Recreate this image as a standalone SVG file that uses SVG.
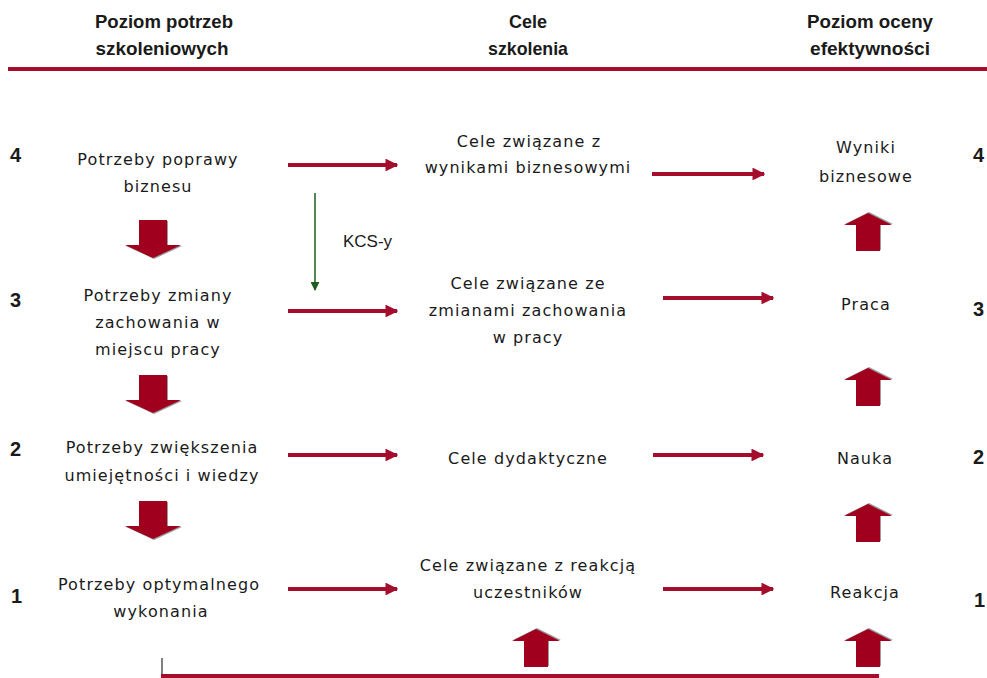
<svg xmlns="http://www.w3.org/2000/svg" width="987" height="678" viewBox="0 0 987 678">
<defs>
<style>
.hd{font-family:"Liberation Sans",Arial,sans-serif;font-weight:bold;font-size:19px;fill:#1a1a1a;text-anchor:middle}
.t{font-family:"DejaVu Sans","Liberation Sans",sans-serif;font-size:16px;letter-spacing:1.1px;fill:#1a1a1a;text-anchor:middle}
.n{font-family:"Liberation Sans",Arial,sans-serif;font-weight:bold;font-size:20px;fill:#1a1a1a}
.k{font-family:"Liberation Sans",Arial,sans-serif;font-size:17px;fill:#1a1a1a}
.ln{stroke:#a50d2d;stroke-width:4;fill:none}
.ra{stroke:#a50d2d;stroke-width:4;fill:none;marker-end:url(#rh)}
.ga{stroke:#1f5a1f;stroke-width:1.5;fill:none;marker-end:url(#gh)}
.blk{fill:#a0001e}
.sh{fill:#9a9a9a}
</style>
<marker id="rh" viewBox="0 0 10 10" refX="9" refY="5" markerWidth="3.2" markerHeight="3.2" markerUnits="strokeWidth" orient="auto">
<path d="M0,0 L10,5 L0,10 z" fill="#a50d2d"/>
</marker>
<marker id="gh" viewBox="0 0 10 10" refX="9" refY="5" markerWidth="6" markerHeight="6" markerUnits="strokeWidth" orient="auto">
<path d="M0,0 L10,5 L0,10 z" fill="#1f5a1f"/>
</marker>
<polygon id="down" points="-14,0 14,0 14,25 28,25 0,38 -28,25 -14,25"/>
<polygon id="up" points="0,0 24,12 12,12 12,38 -12,38 -12,12 -24,12"/>
</defs>
<rect width="987" height="678" fill="#ffffff"/>

<g id="header">
<text class="hd" x="164" y="28" textLength="138" lengthAdjust="spacingAndGlyphs">Poziom potrzeb</text>
<text class="hd" x="162" y="55" textLength="133" lengthAdjust="spacingAndGlyphs">szkoleniowych</text>
<text class="hd" x="528" y="28" textLength="38" lengthAdjust="spacingAndGlyphs">Cele</text>
<text class="hd" x="528" y="55" textLength="80" lengthAdjust="spacingAndGlyphs">szkolenia</text>
<text class="hd" x="870" y="28" textLength="126" lengthAdjust="spacingAndGlyphs">Poziom oceny</text>
<text class="hd" x="870" y="55" textLength="120" lengthAdjust="spacingAndGlyphs">efektywności</text>
<line class="ln" x1="8" y1="69" x2="987" y2="69"/>
</g>

<g id="levels">
<text class="n" x="10" y="162">4</text>
<text class="n" x="10" y="307">3</text>
<text class="n" x="10" y="456">2</text>
<text class="n" x="11" y="603">1</text>
<text class="n" x="973" y="162">4</text>
<text class="n" x="973" y="316">3</text>
<text class="n" x="973" y="464">2</text>
<text class="n" x="974" y="607">1</text>
</g>

<g id="need4"><text class="t" x="158" y="165">Potrzeby poprawy</text><text class="t" x="158" y="192">biznesu</text></g>
<g id="need3"><text class="t" x="158" y="301">Potrzeby zmiany</text><text class="t" x="158" y="328">zachowania w</text><text class="t" x="158" y="355">miejscu pracy</text></g>
<g id="need2"><text class="t" x="162" y="453">Potrzeby zwiększenia</text><text class="t" x="162" y="481">umiejętności i wiedzy</text></g>
<g id="need1"><text class="t" x="159" y="590">Potrzeby optymalnego</text><text class="t" x="161" y="617">wykonania</text></g>

<g id="goal4"><text class="t" x="529" y="147">Cele związane z</text><text class="t" x="528" y="173">wynikami biznesowymi</text></g>
<g id="goal3"><text class="t" x="528" y="289">Cele związane ze</text><text class="t" x="528" y="316">zmianami zachowania</text><text class="t" x="528" y="343">w pracy</text></g>
<g id="goal2"><text class="t" x="528" y="464">Cele dydaktyczne</text></g>
<g id="goal1"><text class="t" x="528" y="571">Cele związane z reakcją</text><text class="t" x="528" y="598">uczestników</text></g>

<g id="eval4"><text class="t" x="866" y="153">Wyniki</text><text class="t" x="866" y="182">biznesowe</text></g>
<g id="eval3"><text class="t" x="866" y="310">Praca</text></g>
<g id="eval2"><text class="t" x="865" y="464">Nauka</text></g>
<g id="eval1"><text class="t" x="865" y="598">Reakcja</text></g>

<g id="connectors">
<line class="ra" x1="288" y1="165" x2="397" y2="165"/>
<line class="ra" x1="288" y1="311" x2="397" y2="311"/>
<line class="ra" x1="288" y1="455" x2="397" y2="455"/>
<line class="ra" x1="288" y1="589" x2="397" y2="589"/>
<line class="ra" x1="652" y1="174" x2="764" y2="174"/>
<line class="ra" x1="663" y1="298" x2="773" y2="298"/>
<line class="ra" x1="653" y1="455" x2="763" y2="455"/>
<line class="ra" x1="663" y1="589" x2="773" y2="589"/>
<line class="ga" x1="315" y1="193" x2="315" y2="290"/>
<text class="k" x="343" y="247">KCS-y</text>

<use href="#down" class="sh" x="154" y="221"/>
<use href="#down" class="blk" x="153" y="220"/>
<use href="#down" class="sh" x="154" y="376"/>
<use href="#down" class="blk" x="153" y="375"/>
<use href="#down" class="sh" x="154" y="502"/>
<use href="#down" class="blk" x="153" y="501"/>

<use href="#up" class="sh" x="869" y="212"/>
<use href="#up" class="blk" x="868" y="213"/>
<use href="#up" class="sh" x="869" y="367"/>
<use href="#up" class="blk" x="868" y="368"/>
<use href="#up" class="sh" x="869" y="503"/>
<use href="#up" class="blk" x="868" y="504"/>
<use href="#up" class="sh" x="869" y="628"/>
<use href="#up" class="blk" x="868" y="629"/>
<use href="#up" class="sh" x="537" y="628"/>
<use href="#up" class="blk" x="536" y="629"/>

<line x1="162" y1="658" x2="162" y2="678" stroke="#808080" stroke-width="2"/>
<line class="ln" x1="161" y1="676" x2="879" y2="676"/>
</g>
</svg>
